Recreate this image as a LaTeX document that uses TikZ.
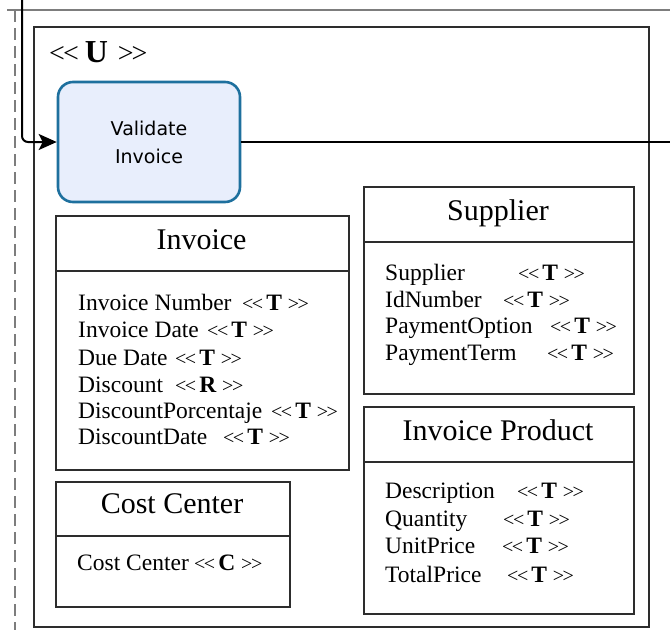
\documentclass[tikz,border=0pt]{standalone}
\usepackage{fontspec}
\setmainfont{Liberation Serif}
\newfontfamily\taskfont{DejaVu Sans}
\usetikzlibrary{arrows.meta}

\definecolor{framegray}{RGB}{45,45,45}
\definecolor{lanegray}{RGB}{125,125,125}
\definecolor{taskfill}{RGB}{232,238,252}
\definecolor{taskedge}{RGB}{30,112,158}

% stereotype tag such as << T >>
\newcommand\ster[1]{{\fontsize{20}{20}\selectfont <\kern-1.5pt<}\kern3pt{\fontsize{23.5}{23.5}\selectfont\bfseries #1}\kern6pt{\fontsize{20}{20}\selectfont >\kern-1.5pt>}}

\tikzset{
  laneline/.style={draw=lanegray, line width=2pt},
  groupbox/.style={draw=framegray, line width=2.2pt, rectangle, anchor=north west, inner sep=0pt},
  task/.style={draw=taskedge, fill=taskfill, line width=2.6pt, rounded corners=15pt,
               rectangle, align=center, inner sep=0pt,
               font=\taskfont\fontsize{19}{28}\selectfont},
  classbox/.style={draw=framegray, line width=2pt, rectangle, anchor=north west, inner sep=0pt},
  classline/.style={draw=framegray, line width=2pt},
  classtitle/.style={anchor=base, inner sep=0pt, font=\fontsize{30}{30}\selectfont},
  attr/.style={anchor=base west, inner sep=0pt, font=\fontsize{23.5}{23.5}\selectfont},
  flowline/.style={draw=black, line width=2pt},
  flowarrow/.style={flowline, -{Stealth[length=18pt,width=16pt,inset=4pt]}},
}

\begin{document}
\begin{tikzpicture}[x=1pt,y=-1pt]
\useasboundingbox (0,0) rectangle (670,630);
\fill[white] (0,0) rectangle (670,630);

% lane border and dashed separator
\coordinate (laneL) at (7,10);
\coordinate (laneR) at (670,10);
\draw[laneline] (laneL) -- (laneR);
\coordinate (dashTop) at (15,10);
\coordinate (dashBot) at (15,630);
\draw[laneline, dash pattern=on 12pt off 6pt] (dashTop) -- (dashBot);

% group container
\node[groupbox, minimum width=615pt, minimum height=600pt] (group) at (33,26) {};
\node[anchor=base west, inner sep=0pt] (ulabel) at (49,62)
  {{\fontsize{28}{28}\selectfont <\kern-2pt<}\kern6pt{\fontsize{32}{32}\selectfont\bfseries U}\kern10pt{\fontsize{28}{28}\selectfont >\kern-2pt>}};

% task
\node[task, minimum width=182pt, minimum height=120pt] (validate) at (149,142) {Validate\\Invoice};

% flows
\coordinate (inTop) at (22,0);
\draw[flowarrow, rounded corners=6pt] (inTop) |- (validate.west);
\coordinate (outEnd) at (670,142);
\draw[flowline] (validate.east) -- (outEnd);

% class: Invoice
\node[classbox, minimum width=293pt, minimum height=254pt] (invoice) at (55,215) {};
\draw[classline] ([yshift=-56pt]invoice.north west) -- ([yshift=-56pt]invoice.north east);
\node[classtitle] (invoiceTitle) at (201.5,249) {Invoice};
\node[attr] (inv1) at (78,310) {\makebox[164pt][l]{Invoice Number}\ster{T}};
\node[attr] (inv2) at (78,337) {\makebox[129pt][l]{Invoice Date}\ster{T}};
\node[attr] (inv3) at (78,365) {\makebox[97pt][l]{Due Date}\ster{T}};
\node[attr] (inv4) at (78,392) {\makebox[97pt][l]{Discount}\ster{R}};
\node[attr] (inv5) at (78,418) {\makebox[193pt][l]{DiscountPorcentaje}\ster{T}};
\node[attr] (inv6) at (78,444) {\makebox[145pt][l]{DiscountDate}\ster{T}};

% class: Supplier
\node[classbox, minimum width=270pt, minimum height=207pt] (supplier) at (363,186) {};
\draw[classline] ([yshift=-56pt]supplier.north west) -- ([yshift=-56pt]supplier.north east);
\node[classtitle] (supplierTitle) at (498,220) {Supplier};
\node[attr] (sup1) at (385,280) {\makebox[133pt][l]{Supplier}\ster{T}};
\node[attr] (sup2) at (385,307) {\makebox[118pt][l]{IdNumber}\ster{T}};
\node[attr] (sup3) at (385,333) {\makebox[165pt][l]{PaymentOption}\ster{T}};
\node[attr] (sup4) at (385,360) {\makebox[162pt][l]{PaymentTerm}\ster{T}};

% class: Invoice Product
\node[classbox, minimum width=270pt, minimum height=207pt] (product) at (363,406) {};
\draw[classline] ([yshift=-56pt]product.north west) -- ([yshift=-56pt]product.north east);
\node[classtitle] (productTitle) at (498,440) {Invoice Product};
\node[attr] (pro1) at (385,498) {\makebox[132pt][l]{Description}\ster{T}};
\node[attr] (pro2) at (385,526) {\makebox[118pt][l]{Quantity}\ster{T}};
\node[attr] (pro3) at (385,553) {\makebox[117pt][l]{UnitPrice}\ster{T}};
\node[attr] (pro4) at (385,582) {\makebox[122pt][l]{TotalPrice}\ster{T}};

% class: Cost Center
\node[classbox, minimum width=234pt, minimum height=125pt] (cost) at (55,481) {};
\draw[classline] ([yshift=-55pt]cost.north west) -- ([yshift=-55pt]cost.north east);
\node[classtitle] (costTitle) at (172,513) {Cost Center};
\node[attr] (cos1) at (77,570) {\makebox[117pt][l]{Cost Center}\ster{C}};
\end{tikzpicture}
\end{document}
